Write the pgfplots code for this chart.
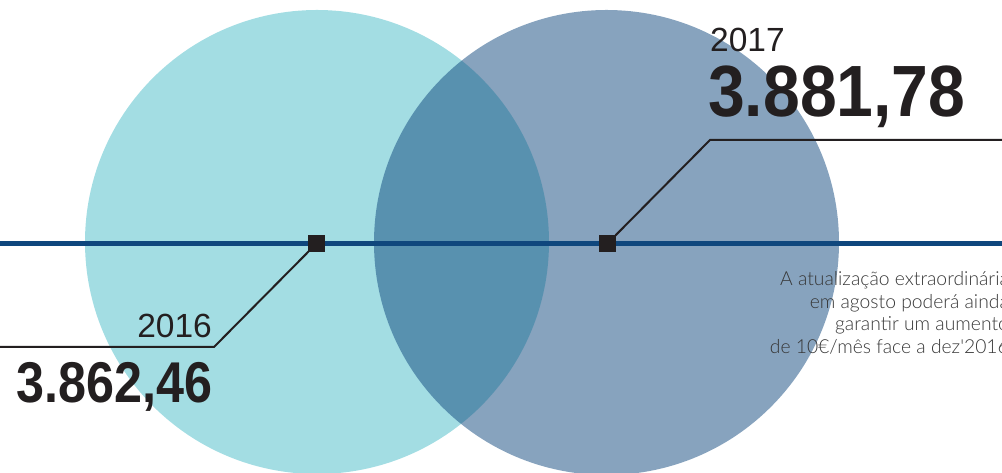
\documentclass[border=0pt]{standalone}
\usepackage{pgfplots}
\pgfplotsset{compat=1.18}
\usepackage{fontspec}
\setmainfont{Liberation Sans}
\newfontfamily\numfont{Liberation Sans}[FakeStretch=0.91]
\newfontfamily\numfontB{Liberation Sans}[FakeStretch=0.875]
\newfontfamily\lightfont{Lato}[UprightFont=* Light]
\definecolor{cyanc}{RGB}{163,221,227}
\definecolor{navy}{RGB}{15,71,125}
\definecolor{ink}{RGB}{35,31,32}
\definecolor{graytext}{RGB}{55,55,55}
\begin{document}
\begin{tikzpicture}
\path[use as bounding box] (0,0) rectangle (1002pt,473pt);
\begin{axis}[at={(0,0)}, anchor=south west, width=1002pt, height=473pt, scale only axis,
  xmin=0, xmax=1002, ymin=0, ymax=473, hide axis, clip=false, clip marker paths=true]
\addplot[cyanc, only marks, mark=*, mark size=232pt, mark options={line width=0pt, draw opacity=0, fill=cyanc}] coordinates {(317,231)};
\addplot[navy, only marks, mark=*, mark size=232.5pt, mark options={line width=0pt, draw opacity=0, fill=navy, fill opacity=0.5}] coordinates {(606.5,230.5)};
\addplot[navy, line width=4.5pt] coordinates {(-5,229.5) (1010,229.5)};
\addplot[ink, line width=2pt] coordinates {(316,229) (214,126) (-5,126)};
\addplot[ink, line width=2pt] coordinates {(607,229) (710,333) (1010,333)};
\addplot[ink, only marks, mark=square*, mark size=8pt, mark options={line width=0pt, fill=ink}] coordinates {(316,229) (607,229)};
\node[anchor=base west, inner sep=0pt, text=ink, font=\fontsize{33.5}{40}\selectfont] at (axis cs:710,421) {2017};
\node[anchor=base west, inner sep=0pt, text=ink, font=\numfont\bfseries\fontsize{72.6}{80}\selectfont] at (axis cs:708,356) {3.881,78};
\node[anchor=base east, inner sep=0pt, text=ink, font=\fontsize{33.5}{40}\selectfont] at (axis cs:212,135) {2016};
\node[anchor=base west, inner sep=0pt, text=ink, font=\numfontB\bfseries\fontsize{57.5}{64}\selectfont] at (axis cs:16,70) {3.862,46};
\node[anchor=base east, inner sep=0pt, text=graytext, font=\lightfont\fontsize{19.3}{22}\selectfont] at (axis cs:1009,187) {A atualização extraordinária};
\node[anchor=base east, inner sep=0pt, text=graytext, font=\lightfont\fontsize{19.3}{22}\selectfont] at (axis cs:1009,164.5) {em agosto poderá ainda};
\node[anchor=base east, inner sep=0pt, text=graytext, font=\lightfont\fontsize{19.3}{22}\selectfont] at (axis cs:1009,142) {garantir um aumento};
\node[anchor=base east, inner sep=0pt, text=graytext, font=\lightfont\fontsize{19.3}{22}\selectfont] at (axis cs:1009,119.5) {de 10€/mês face a dez'2016};
\end{axis}
\end{tikzpicture}
\end{document}
